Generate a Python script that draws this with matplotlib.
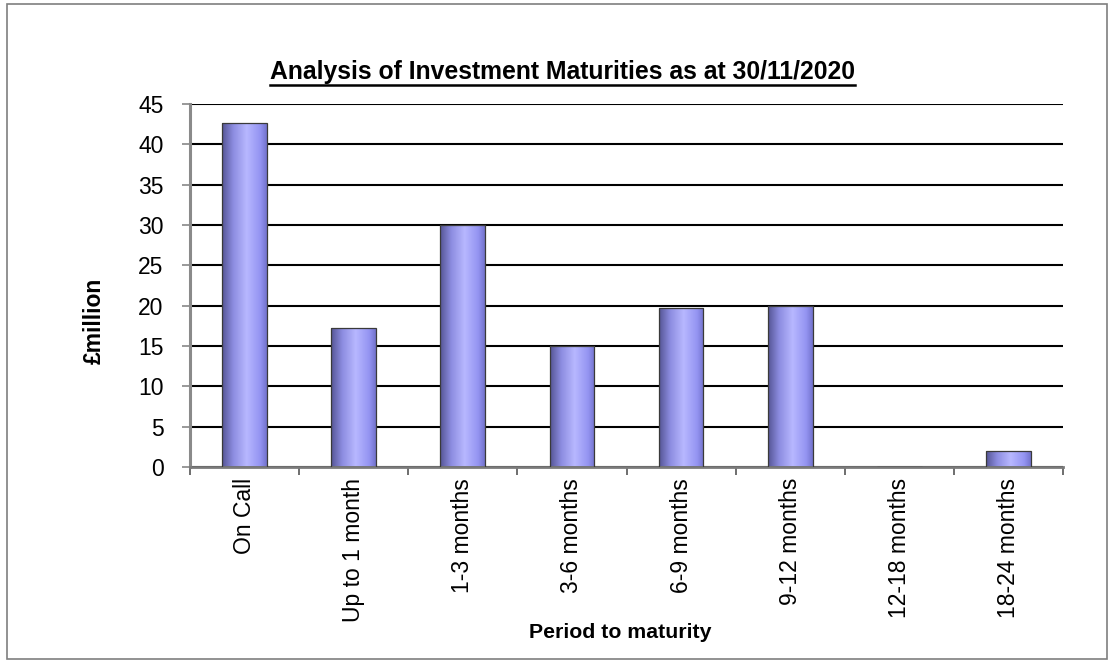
import matplotlib
matplotlib.use("Agg")
import matplotlib.pyplot as plt
import numpy as np
from matplotlib.colors import LinearSegmentedColormap
from matplotlib.lines import Line2D
from matplotlib.patches import Rectangle

categories = ["On Call", "Up to 1 month", "1-3 months", "3-6 months",
              "6-9 months", "9-12 months", "12-18 months", "18-24 months"]
values = [42.6, 17.2, 30.0, 15.0, 19.7, 20.0, 0.0, 2.0]
yticks = [0, 5, 10, 15, 20, 25, 30, 35, 40, 45]
title = "Analysis of Investment Maturities as at 30/11/2020"
ylabel = "£million"
xlabel = "Period to maturity"

plt.rcParams['font.family'] = ['Liberation Sans', 'DejaVu Sans']

fig = plt.figure(figsize=(11.11, 6.63), dpi=100)
fig.patch.set_facecolor("white")
fig.add_artist(Rectangle((0.006, 0.006), 0.99, 0.988, transform=fig.transFigure,
                         fill=False, edgecolor="#7f7f7f", lw=1.2))

ax = fig.add_axes([190/1111, 1-467/663, (1063-190)/1111, (467-104)/663])
x = np.arange(len(categories))
width = 0.41

cmap = LinearSegmentedColormap.from_list("barg", [
    (0.0, (0.33, 0.33, 0.58)),
    (0.25, (0.55, 0.55, 0.88)),
    (0.55, (0.72, 0.72, 1.0)),
    (0.85, (0.58, 0.58, 0.95)),
    (1.0, (0.45, 0.45, 0.80)),
])
grad = np.linspace(0, 1, 256).reshape(1, -1)

bars = ax.bar(x, values, width=width, color="none", edgecolor="#3a3a3a", lw=0.9, zorder=3)
for b in bars:
    h = b.get_height()
    if h <= 0:
        continue
    x0 = b.get_x()
    im = ax.imshow(grad, cmap=cmap, aspect="auto", extent=[x0, x0 + b.get_width(), 0, h],
                   zorder=2.5, interpolation="bicubic")
    im.set_clip_path(b)

ax.set_xlim(-0.5, len(categories) - 0.5)
ax.set_ylim(0, 45)
ax.set_yticks(yticks)
ax.set_yticklabels([str(t) for t in yticks], fontsize=16.5)
ax.yaxis.grid(True, color="black", lw=1.5, zorder=1)
ax.set_axisbelow(True)

ax.set_xticks(x)
ax.set_xticklabels(categories, rotation=90, fontsize=16.5)
ax.tick_params(axis="x", which="major", length=0, pad=8)
ax.set_xticks(np.arange(-0.5, len(categories), 1), minor=True)
ax.tick_params(axis="x", which="minor", length=6, color="#555555", width=1.2, direction="out")
ax.tick_params(axis="y", length=6, color="#888888", width=1.2, direction="out", pad=13)

for s in ["top", "right"]:
    ax.spines[s].set_visible(False)
ax.spines["left"].set_color("#8a8a8a")
ax.spines["left"].set_linewidth(2.2)
ax.spines["bottom"].set_color("#7a7a7a")
ax.spines["bottom"].set_linewidth(2.0)

fig.text(94/1111, 1-321/663, ylabel, rotation=90, fontsize=16.5, fontweight="bold",
         ha="center", va="center")
fig.text(620/1111, 1-633/663, xlabel, fontsize=15.3, fontweight="bold",
         ha="center", va="center")

t = fig.text(562/1111, 1-72/663, title, fontsize=17.8, fontweight="bold",
             ha="center", va="center")
fig.canvas.draw()
bb = t.get_window_extent(fig.canvas.get_renderer())
yline = (bb.y0 - 1) / fig.bbox.height
fig.add_artist(Line2D([bb.x0 / fig.bbox.width, bb.x1 / fig.bbox.width], [yline, yline],
                      transform=fig.transFigure, color="black", lw=1.8))

fig.savefig("out.png", dpi=100)
